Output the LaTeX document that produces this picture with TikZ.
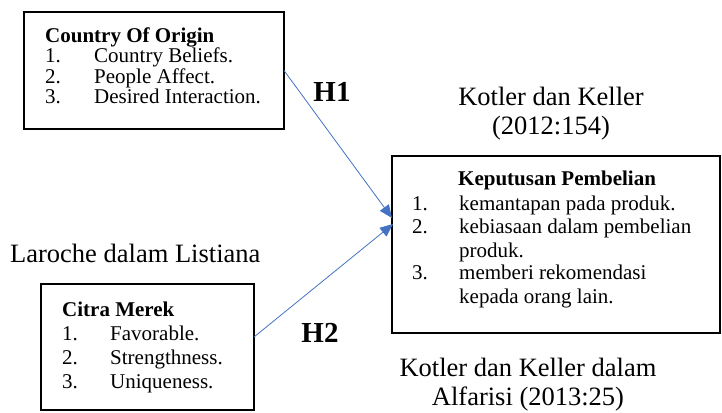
\documentclass[tikz,border=0pt]{standalone}
\usepackage{fontspec}
\setmainfont{Liberation Serif}
\usetikzlibrary{arrows.meta}
\definecolor{linkblue}{HTML}{4472C4}

\begin{document}
\begin{tikzpicture}[x=1pt,y=-1pt,>={Triangle[length=13pt,width=11pt]},
  varbox/.style={draw,line width=1.6pt,anchor=north west,inner sep=0pt,outer sep=0pt},
  head/.style={anchor=base west,inner sep=0pt,font=\fontsize{21}{20}\selectfont\bfseries},
  item/.style={anchor=base west,inner sep=0pt,font=\fontsize{21}{20}\selectfont},
  src/.style={inner sep=0pt,align=center,font=\fontsize{26.5}{29}\selectfont},
  hyp/.style={anchor=base,inner sep=0pt,font=\fontsize{29}{30}\selectfont\bfseries},
  link/.style={->,draw=linkblue,line width=0.8pt}]
  \useasboundingbox (0,0) rectangle (722,412);
  % boxes
  \node[varbox,minimum width=260,minimum height=117] (coi) at (24,12) {};
  \node[varbox,minimum width=213,minimum height=126] (cm) at (41,284) {};
  \node[varbox,minimum width=328,minimum height=177] (kp) at (392,156) {};
  % Country Of Origin
  \node[head] (coi-t) at (45,42) {Country Of Origin};
  \foreach \i/\y/\txt in {1/63/Country Beliefs.,2/83/People Affect.,3/103/Desired Interaction.}
    {\node[item] (coi-n\i) at (45,\y) {\i.}; \node[item] (coi-\i) at (94,\y) {\txt};}
  % Citra Merek
  \node[head] (cm-t) at (62,316) {Citra Merek};
  \foreach \i/\y/\txt in {1/340/Favorable.,2/364/Strengthness.,3/388/Uniqueness.}
    {\node[item] (cm-n\i) at (62,\y) {\i.}; \node[item] (cm-\i) at (110,\y) {\txt};}
  % Keputusan Pembelian
  \node[head] (kp-t) at (458,185) {Keputusan Pembelian};
  \foreach \n/\y/\txt [count=\k] in {1./210/kemantapan pada produk.,2./233/kebiasaan dalam pembelian,/257/produk.,3./279/memberi rekomendasi,/303/kepada orang lain.}
    {\node[item] (kp-n\k) at (412,\y) {\n}; \node[item] (kp-\k) at (459,\y) {\txt};}
  % sources
  \node[src] (kk) at (551,114) {Kotler dan Keller\\(2012:154)};
  \node[src,anchor=base west] (ll) at (10,262) {Laroche dalam Listiana};
  \node[src] (kka) at (528,385) {Kotler dan Keller dalam\\Alfarisi (2013:25)};
  % hypotheses
  \coordinate (h1end) at (392,218);
  \coordinate (h2end) at (393,224);
  \draw[link] (coi.east) -- (h1end);
  \draw[link] ([yshift=10pt]cm.east) -- (h2end);
  \node[hyp] (h1) at (332,101) {H1};
  \node[hyp] (h2) at (320,342) {H2};
\end{tikzpicture}
\end{document}
